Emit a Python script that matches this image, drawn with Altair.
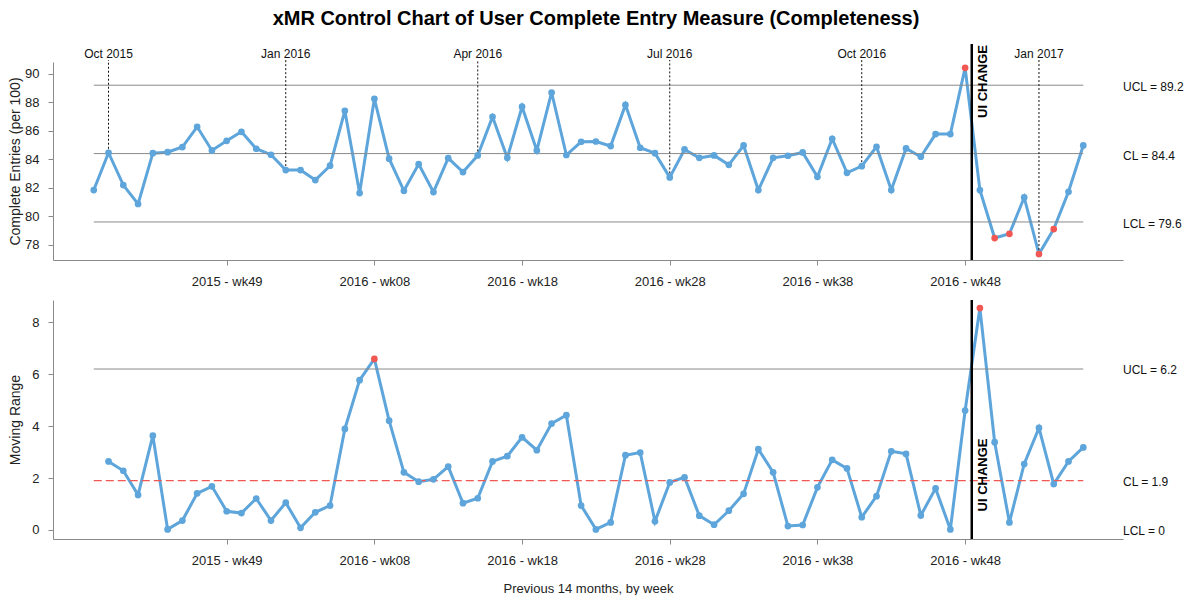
import altair as alt
import pandas as pd

# ---------------- data ----------------
weeks = list(range(68))
values = [
    81.84, 84.46, 82.19, 80.86, 84.43, 84.50, 84.86, 86.28, 84.62, 85.30,
    85.93, 84.74, 84.32, 83.24, 83.24, 82.54, 83.55, 87.40, 81.63, 88.25,
    84.04, 81.79, 83.66, 81.70, 84.08, 83.10, 84.27, 86.98, 84.10, 87.69,
    84.62, 88.69, 84.30, 85.23, 85.25, 84.93, 87.82, 84.81, 84.43, 82.73,
    84.69, 84.10, 84.27, 83.61, 84.97, 81.84, 84.10, 84.25, 84.48, 82.77,
    85.44, 83.05, 83.52, 84.88, 81.84, 84.76, 84.18, 85.77, 85.77, 90.42,
    81.84, 78.47, 78.77, 81.32, 77.35, 79.10, 81.72, 84.97,
]
mr_weeks = list(range(1, 68))
mr_values = [
    2.64, 2.28, 1.35, 3.63, 0.02, 0.36, 1.41, 1.68, 0.72, 0.65,
    1.21, 0.36, 1.05, 0.08, 0.68, 0.94, 3.89, 5.77, 6.59, 4.21,
    2.22, 1.86, 1.95, 2.44, 1.03, 1.22, 2.64, 2.84, 3.57, 3.07,
    4.10, 4.42, 0.94, 0.02, 0.29, 2.88, 2.98, 0.33, 1.83, 2.03,
    0.55, 0.20, 0.74, 1.39, 3.11, 2.22, 0.15, 0.19, 1.64, 2.70,
    2.37, 0.49, 1.30, 3.03, 2.93, 0.56, 1.60, 0.02, 4.60, 8.55,
    3.38, 0.29, 2.54, 3.93, 1.77, 2.64, 3.18,
]

x_tick_idx = [9, 19, 29, 39, 49, 59]
x_tick_labels = ["2015 - wk49", "2016 - wk08", "2016 - wk18",
                 "2016 - wk28", "2016 - wk38", "2016 - wk48"]

month_idx = [1, 13, 26, 39, 52, 64]
month_labels = ["Oct 2015", "Jan 2016", "Apr 2016", "Jul 2016", "Oct 2016", "Jan 2017"]

x_ucl, x_cl, x_lcl = 89.2, 84.4, 79.6
mr_ucl, mr_cl, mr_lcl = 6.2, 1.9, 0
ui_change_x = 59.45
ui_label = "UI CHANGE"

top_y_ticks = [78, 80, 82, 84, 86, 88, 90]
bot_y_ticks = [0, 2, 4, 6, 8]

# ---------------- style ----------------
BLUE = "#5DA5DA"
RED = "#F15854"
GRAY = "#8a8a8a"
FONT = "Liberation Sans"
W = 1070
H_TOP = 198
H_BOT = 239
X_DOMAIN = [-2.76, 69.69]
Y_TOP_DOMAIN = [76.93, 90.83]
Y_BOT_DOMAIN = [-0.35, 8.86]

label_expr = "".join(
    f"datum.value == {i} ? '{l}' : " for i, l in zip(x_tick_idx, x_tick_labels)
) + "''"


def x_enc(title=None, field="x"):
    ax = alt.Axis(values=x_tick_idx, labelExpr=label_expr, title=title,
                  grid=False, domainColor=GRAY, tickColor=GRAY, tickSize=5,
                  labelPadding=10, labelFontSize=13, labelColor="#222",
                  labelFont=FONT, titleFont=FONT, titleFontSize=13,
                  titleFontWeight="normal", titleColor="#222", titlePadding=15,
                  labelFlush=False, labelOverlap=False)
    return alt.X(f"{field}:Q", scale=alt.Scale(domain=X_DOMAIN, nice=False, zero=False), axis=ax)


def y_enc(domain, ticks, title, field="y"):
    ax = alt.Axis(values=ticks, title=title, grid=False, domainColor=GRAY,
                  tickColor=GRAY, tickSize=5, labelPadding=9, labelFontSize=13,
                  labelColor="#222", labelFont=FONT, titleFont=FONT,
                  titleFontSize=14, titleFontWeight="normal", titleColor="#222",
                  titleX=-31)
    return alt.Y(f"{field}:Q", scale=alt.Scale(domain=domain, nice=False, zero=False), axis=ax)


def xt():
    return x_enc(None)


def yt():
    return y_enc(Y_TOP_DOMAIN, top_y_ticks, "Complete Entries (per 100)")


X_BOT_TITLE = "Previous 14 months, by week"


def xb():
    return x_enc(X_BOT_TITLE)


def yb():
    return y_enc(Y_BOT_DOMAIN, bot_y_ticks, "Moving Range")


# ---------------- top panel (individuals) ----------------
top_df = pd.DataFrame({"x": weeks, "y": values})
top_df["out"] = (top_df["y"] > x_ucl) | (top_df["y"] < x_lcl)

lim_top = pd.DataFrame({
    "y": [x_ucl, x_cl, x_lcl],
    "x": [weeks[0]] * 3,
    "x2": [weeks[-1]] * 3,
    "label": [f"UCL = {x_ucl}", f"CL = {x_cl}", f"LCL = {x_lcl}"],
})
month_df = pd.DataFrame({
    "x": month_idx,
    "y": [values[i] for i in month_idx],
    "label": month_labels,
})
ui_df = pd.DataFrame({"x": [ui_change_x], "label": [ui_label]})

top_line = alt.Chart(top_df).mark_line(color=BLUE, strokeWidth=3).encode(x=xt(), y=yt())
top_lim = alt.Chart(lim_top).mark_rule(color=GRAY, strokeWidth=1).encode(
    x=xt(), x2="x2:Q", y=yt()
)
top_lim_text = alt.Chart(lim_top).mark_text(
    align="left", baseline="middle", dy=2, fontSize=12, font=FONT, color="#111"
).encode(x=alt.value(W), y=yt(), text="label:N")
month_rule = alt.Chart(month_df).mark_rule(color="#111", strokeWidth=1, strokeDash=[2, 2]).encode(
    x=xt(), y=yt(), y2=alt.value(-2)
)
month_text = alt.Chart(month_df).mark_text(
    align="center", baseline="middle", fontSize=12, font=FONT, color="#111"
).encode(x=xt(), y=alt.value(-8), text="label:N")
ui_rule_top = alt.Chart(ui_df).mark_rule(color="black", strokeWidth=2.5).encode(
    x=xt(), y=alt.value(-18), y2=alt.value(H_TOP)
)
ui_text_top = alt.Chart(ui_df).mark_text(
    angle=270, align="right", baseline="middle", dy=11, fontSize=13,
    fontWeight="bold", font=FONT, color="black"
).encode(x=xt(), y=alt.value(-17), text="label:N")
top_pts = alt.Chart(top_df).mark_circle(size=45, opacity=1).encode(
    x=xt(), y=yt(),
    color=alt.condition("datum.out", alt.value(RED), alt.value(BLUE)),
)

top = alt.layer(
    top_line, top_lim, top_lim_text, month_rule, month_text, top_pts,
    ui_rule_top, ui_text_top
).properties(width=W, height=H_TOP)

# ---------------- bottom panel (moving range) ----------------
bot_df = pd.DataFrame({"x": mr_weeks, "y": mr_values})
bot_df["out"] = bot_df["y"] > mr_ucl

lim_bot = pd.DataFrame({
    "y": [mr_ucl, mr_cl, mr_lcl],
    "label": [f"UCL = {mr_ucl}", f"CL = {mr_cl}", f"LCL = {mr_lcl}"],
})
ucl_bot = pd.DataFrame({"y": [mr_ucl], "x": [weeks[0]], "x2": [weeks[-1]]})
cl_bot = pd.DataFrame({"y": [mr_cl], "x": [weeks[0]], "x2": [weeks[-1]]})

bot_line = alt.Chart(bot_df).mark_line(color=BLUE, strokeWidth=3).encode(x=xb(), y=yb())
bot_ucl = alt.Chart(ucl_bot).mark_rule(color=GRAY, strokeWidth=1).encode(
    x=xb(), x2="x2:Q", y=yb()
)
bot_cl = alt.Chart(cl_bot).mark_rule(color=RED, strokeWidth=1.4, strokeDash=[8, 4]).encode(
    x=xb(), x2="x2:Q", y=yb()
)
bot_lim_text = alt.Chart(lim_bot).mark_text(
    align="left", baseline="middle", dy=1, fontSize=12, font=FONT, color="#111"
).encode(x=alt.value(W), y=yb(), text="label:N")
ui_rule_bot = alt.Chart(ui_df).mark_rule(color="black", strokeWidth=2.5).encode(
    x=xb(), y=alt.value(0), y2=alt.value(H_BOT)
)
ui_text_bot = alt.Chart(ui_df).mark_text(
    angle=270, align="center", baseline="middle", dy=11, fontSize=13,
    fontWeight="bold", font=FONT, color="black"
).encode(x=xb(), y=alt.value(175), text="label:N")
bot_pts = alt.Chart(bot_df).mark_circle(size=45, opacity=1).encode(
    x=xb(), y=yb(),
    color=alt.condition("datum.out", alt.value(RED), alt.value(BLUE)),
)

bottom = alt.layer(
    bot_line, bot_ucl, bot_cl, bot_lim_text, bot_pts, ui_rule_bot, ui_text_bot
).properties(width=W, height=H_BOT)

chart = alt.vconcat(top, bottom, spacing=10).properties(
    title=alt.TitleParams(
        "xMR Control Chart of User Complete Entry Measure (Completeness)",
        fontSize=20, fontWeight="bold", font=FONT, color="#000", anchor="middle", offset=14,
    ),
    padding=0,
).configure_view(stroke=None)

chart.save("out.html", embed_options={"renderer": "svg", "actions": False})
